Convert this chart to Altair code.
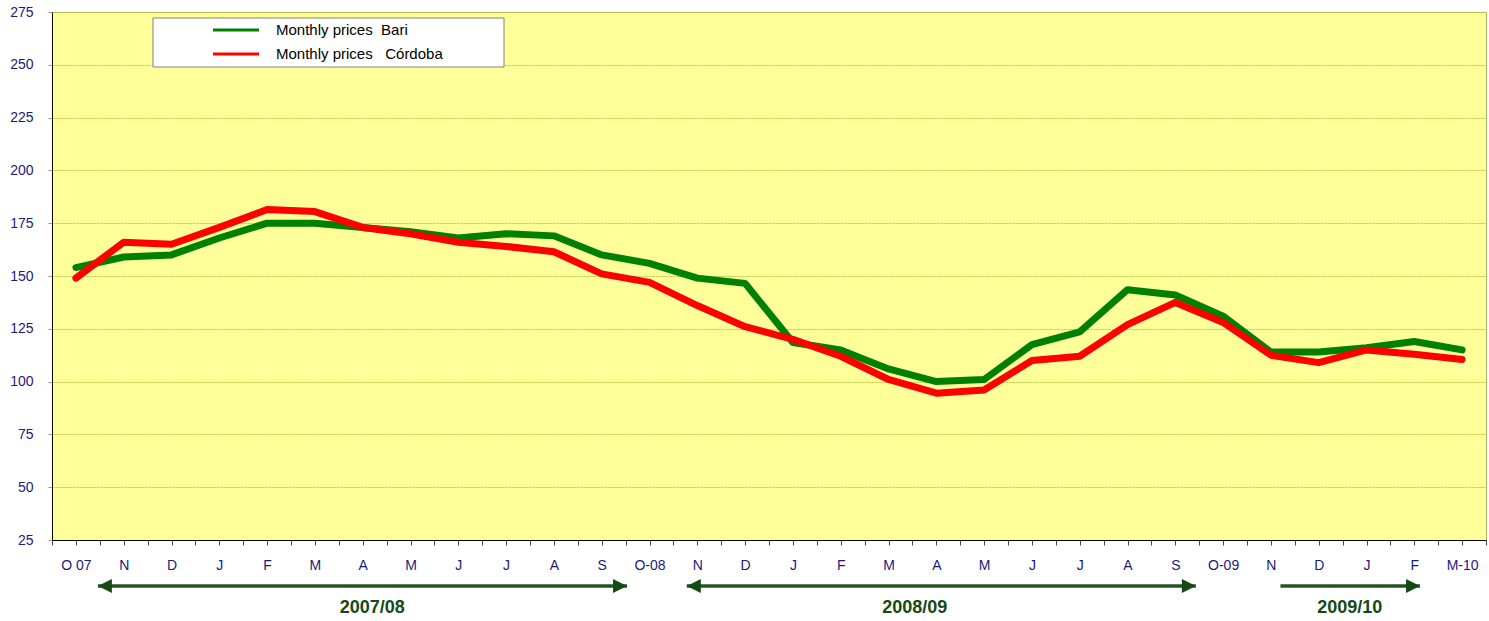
import altair as alt
import pandas as pd

# ---------------- data ----------------
months = ["O 07", "N", "D", "J", "F", "M", "A", "M", "J", "J", "A", "S",
          "O-08", "N", "D", "J", "F", "M", "A", "M", "J", "J", "A", "S",
          "O-09", "N", "D", "J", "F", "M-10"]

bari = [154, 159, 160, 168, 175, 175, 173, 171, 168, 170, 169, 160,
        156, 149, 146.5, 118.5, 115, 106, 100, 101, 117.5, 123.5, 143.5, 141,
        131, 114, 114, 116, 119, 115]

cordoba = [149, 166, 165, 173, 181.5, 180.5, 173, 170, 166, 164, 161.5, 151,
           147, 136, 126, 120, 112, 101, 94.5, 96, 110, 112, 127, 137.5,
           128, 112.5, 109, 115, 113, 110.5]

series_names = ["Monthly prices\u00a0\u00a0Bari", "Monthly prices\u00a0\u00a0\u00a0Córdoba"]
series_colors = ["#008000", "#FF0000"]

y_ticks = [25, 50, 75, 100, 125, 150, 175, 200, 225, 250, 275]

# crop-year periods (in month-index units)
period_labels = ["2007/08", "2008/09", "2009/10"]
period_start = [0.46, 12.78, 25.2]
period_end = [11.53, 23.43, 28.12]
period_text = [6.2, 17.55, 26.65]
period_left_head = [True, True, False]

# ---------------- frames ----------------
idx = list(range(len(months)))
df_bari = pd.DataFrame({"i": idx, "value": bari, "series": series_names[0]})
df_cor = pd.DataFrame({"i": idx, "value": cordoba, "series": series_names[1]})
df_per = pd.DataFrame({"label": period_labels, "start": period_start,
                       "end": period_end, "mid": period_text,
                       "lefthead": period_left_head})
df_leg = pd.DataFrame({"series": series_names, "row": [0, 1]})

W, H = 1434, 528
x_ticks = [v * 0.5 for v in range(-1, 2 * len(months))]
month_str = "|".join(months)

x_scale = alt.Scale(domain=[-0.5, len(months) - 0.5], nice=False, zero=False)
y_scale = alt.Scale(domain=[25, 275], nice=False, zero=False)
color_scale = alt.Scale(domain=series_names, range=series_colors)

x_axis = alt.Axis(values=x_ticks, grid=False, title=None,
                  labelExpr=f"(datum.value - floor(datum.value)) < 0.01 ? split('{month_str}', '|')[round(datum.value)] : ''",
                  labelFont="Liberation Sans", labelFontSize=14, labelColor="#1a1a80",
                  labelPadding=13, tickSize=5, tickColor="#444444",
                  domainColor="#000000", labelOverlap=False, labelFlush=False,
                  labelBound=False)
y_axis = alt.Axis(values=y_ticks, title=None, grid=True, gridColor="#a9c83a",
                  gridOpacity=0.9, gridWidth=1, gridDash=[2, 1],
                  labelFont="Liberation Sans", labelFontSize=14, labelColor="#1a1a80",
                  labelPadding=15, tickSize=4, tickColor="#999999",
                  domainColor="#000000")

line_bari = alt.Chart(df_bari).mark_line(strokeWidth=7, strokeCap="round", strokeJoin="round").encode(
    x=alt.X("i:Q", scale=x_scale, axis=x_axis),
    y=alt.Y("value:Q", scale=y_scale, axis=y_axis),
    color=alt.Color("series:N", scale=color_scale, legend=None),
)
line_cor = alt.Chart(df_cor).mark_line(strokeWidth=7, strokeCap="round", strokeJoin="round").encode(
    x=alt.X("i:Q", scale=x_scale, axis=x_axis),
    y=alt.Y("value:Q", scale=y_scale, axis=y_axis),
    color=alt.Color("series:N", scale=color_scale, legend=None),
)

# ---- manual legend box ----
leg_box = alt.Chart(df_leg.head(1)).mark_rect(fill="white", stroke="#808080", strokeWidth=1).encode(
    x=alt.value(101), x2=alt.value(452), y=alt.value(6), y2=alt.value(55))
leg_layers = [leg_box]
for r, (name, col) in enumerate(zip(series_names, series_colors)):
    yy = 18 + 24 * r
    sub = df_leg[df_leg["row"] == r]
    leg_layers.append(alt.Chart(sub).mark_rule(strokeWidth=3, color=col).encode(
        x=alt.value(161), x2=alt.value(207), y=alt.value(yy)))
    leg_layers.append(alt.Chart(sub).mark_text(align="left", baseline="middle", font="Liberation Sans",
                                               fontSize=15, color="#000000").encode(
        x=alt.value(224), y=alt.value(yy), text="series:N"))

# ---- crop-year arrows ----
arrow_col = "#154a15"
shaft = alt.Chart(df_per).mark_rule(strokeWidth=3.5, color="#245424").encode(
    x=alt.X("start:Q", scale=x_scale, axis=x_axis), x2="end:Q", y=alt.value(574))
head_r = alt.Chart(df_per).mark_point(shape="M-1,-1L1,0L-1,1Z", size=196, filled=True, opacity=1,
                                      color=arrow_col, xOffset=-7).encode(
    x=alt.X("end:Q", scale=x_scale, axis=x_axis), y=alt.value(574))
head_l = alt.Chart(df_per).transform_filter("datum.lefthead").mark_point(
    shape="M1,-1L-1,0L1,1Z", size=196, filled=True, opacity=1, color=arrow_col, xOffset=7).encode(
    x=alt.X("start:Q", scale=x_scale, axis=x_axis), y=alt.value(574))
year_text = alt.Chart(df_per).mark_text(font="Liberation Sans", fontWeight="bold", fontSize=18,
                                        color="#154a15", baseline="alphabetic").encode(
    x=alt.X("mid:Q", scale=x_scale, axis=x_axis), y=alt.value(601), text="label:N")

chart = alt.layer(line_bari, line_cor, *leg_layers, shaft, head_r, head_l, year_text).properties(
    width=W, height=H,
    autosize=alt.AutoSizeParams(type="none"),
    padding={"left": 52, "top": 12, "right": 3, "bottom": 81},
    background="white",
).configure_view(fill="#FFFF99", stroke="#a6b86a", strokeWidth=1)

chart.save("out.html", embed_options={"renderer": "svg", "actions": False})
